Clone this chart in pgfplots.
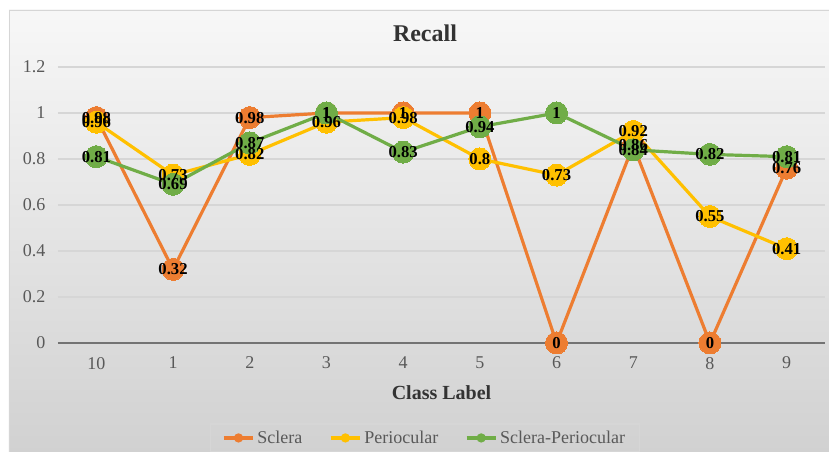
\documentclass[border=0pt]{standalone}
\usepackage{pgfplots}
\usepackage{pgfplotstable}
\pgfplotsset{compat=1.18}
\usepackage{fontspec}
\setmainfont{Liberation Serif}

\definecolor{sclera}{HTML}{ED7D31}
\definecolor{peri}{HTML}{FFC000}
\definecolor{both}{HTML}{70AD47}
\definecolor{tickgray}{HTML}{595959}
\definecolor{gridgray}{HTML}{D6D6D6}

% x: 0..9 stand for classes 10,1,2,...,9
\pgfplotstableread{
x  s    p    sp
0  0.98 0.96 0.81
1  0.32 0.73 0.69
2  0.98 0.82 0.87
3  1    0.96 1
4  1    0.98 0.83
5  1    0.8  0.94
6  0    0.73 1
7  0.86 0.92 0.84
8  0    0.55 0.82
9  0.76 0.41 0.81
}\recall

\begin{document}
\begin{tikzpicture}
% chart area background
\shade[top color=white!97!black, bottom color=white!82!black, draw=gridgray]
  (-36.75pt,-81.75pt) rectangle (580pt,249.75pt);
\node[font=\bfseries\fontsize{18}{20}\selectfont, text=black!80] at (275.25pt,232.5pt) {Recall};
\begin{axis}[
    scale only axis,
    width=575.25pt,
    height=207pt,
    xmin=-0.5, xmax=9.5,
    ymin=0, ymax=1.2,
    xtick={0,...,9},
    xticklabels={10,1,2,3,4,5,6,7,8,9},
    ytick={0,0.2,0.4,0.6,0.8,1,1.2},
    major tick length=0pt,
    axis line style={draw=none},
    ymajorgrids=true,
    grid style={gridgray, line width=1.1pt},
    extra y ticks={0},
    extra y tick labels={},
    extra y tick style={grid style={black!55, line width=1.6pt}},
    clip=false,
    /pgf/number format/assume math mode=true,
    ticklabel style={font=\fontsize{13.5}{15}\selectfont, text=tickgray},
    yticklabel style={xshift=-6pt},
    xticklabel style={yshift=-7pt},
    xlabel={Class Label},
    xlabel style={at={(axis description cs:0.5,-0.181)}, anchor=center,
                  font=\bfseries\fontsize{15}{17}\selectfont, text=black!80},
    legend columns=3,
    legend style={at={(0.4785,-0.344)}, anchor=center,
                  draw=gridgray, fill=none, line width=0.8pt,
                  font=\fontsize{13.5}{15}\selectfont, text=tickgray,
                  inner xsep=9pt, inner ysep=3pt,
                  /tikz/every even column/.append style={column sep=18pt}},
    legend image code/.code={
        \draw[#1, mark=none] (0pt,0pt) -- (22pt,0pt);
        \fill[#1, draw=none] (11pt,0pt) circle (3.5pt);
    },
    every axis plot/.append style={line width=2.4pt},
]
\addplot[color=sclera, mark=*, mark size=8.25pt, mark options={line width=0pt}] table[x=x, y=s] {\recall};
\addlegendentry{Sclera}
\addplot[color=peri, mark=*, mark size=8.25pt, mark options={line width=0pt}] table[x=x, y=p] {\recall};
\addlegendentry{Periocular}
\addplot[color=both, mark=*, mark size=8.25pt, mark options={line width=0pt}] table[x=x, y=sp] {\recall};
\addlegendentry{Sclera-Periocular}

% value labels on top of all markers
\pgfplotsset{every node near coord/.append style={anchor=center, inner sep=0pt,
    text=black, font=\bfseries\fontsize{12.5}{13}\selectfont}}
\addplot[forget plot, draw=none, mark=none, nodes near coords] table[x=x, y=s] {\recall};
\addplot[forget plot, draw=none, mark=none, nodes near coords] table[x=x, y=p] {\recall};
\addplot[forget plot, draw=none, mark=none, nodes near coords] table[x=x, y=sp] {\recall};
\end{axis}
\pgfresetboundingbox
\path (-43.5pt,-81.75pt) rectangle (578.25pt,257.25pt);
\end{tikzpicture}
\end{document}
